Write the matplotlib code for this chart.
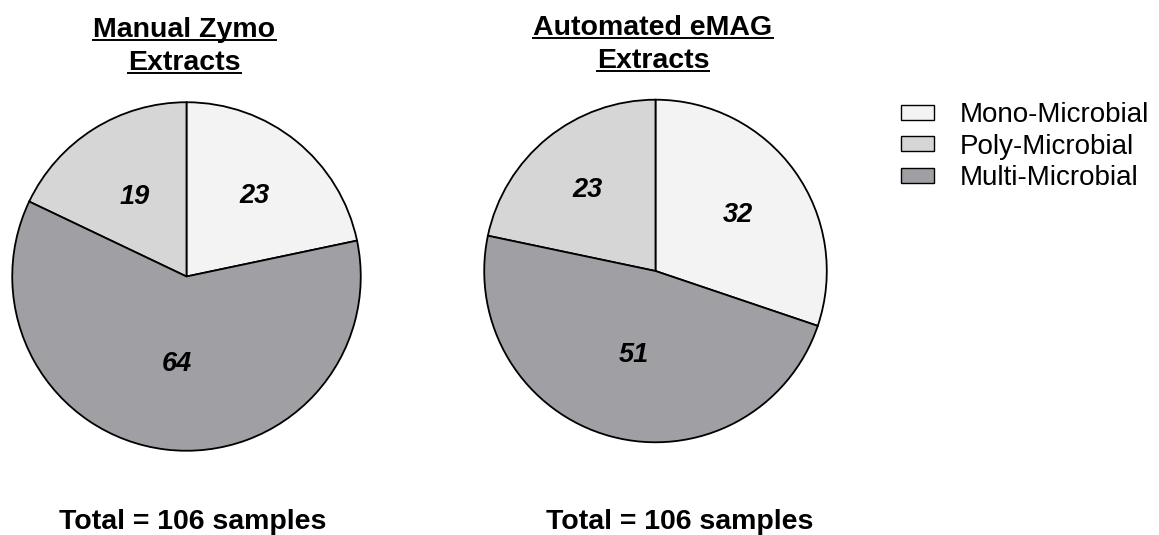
import numpy as np
import matplotlib
matplotlib.use("Agg")
import matplotlib.pyplot as plt
from matplotlib.patches import Patch
from matplotlib.lines import Line2D

plt.rcParams['font.family'] = ['Liberation Sans', 'DejaVu Sans']

categories = ["Mono-Microbial", "Poly-Microbial", "Multi-Microbial"]
zymo_counts = [23, 19, 64]
emag_counts = [32, 23, 51]
titles = [["Manual Zymo", "Extracts"], ["Automated eMAG", "Extracts"]]
totals = ["Total = 106 samples", "Total = 106 samples"]
colors = ["#f3f3f3", "#d6d6d6", "#a09fa4"]

W, H = 1159, 535
fig = plt.figure(figsize=(W / 100, H / 100), dpi=100)

def px_axes(cx, cy, r):
    return [(cx - r) / W, 1 - (cy + r) / H, 2 * r / W, 2 * r / H]

pie_geom = [(186.5, 276.5, 176), (655.5, 271, 173)]
label_dist = [[0.62, 0.56, 0.49], [0.59, 0.63, 0.49]]

for i, counts in enumerate([zymo_counts, emag_counts]):
    cx, cy, r = pie_geom[i]
    ax = fig.add_axes(px_axes(cx, cy, r))
    total = sum(counts)
    start = 90 - 360 * counts[0] / total
    wedges, _ = ax.pie(counts, colors=colors, startangle=start, counterclock=True,
                       wedgeprops=dict(edgecolor="black", linewidth=1.3),
                       radius=1.0)
    ax.set_xlim(-1.01, 1.01)
    ax.set_ylim(-1.01, 1.01)
    ax.set_aspect('equal')
    ax.axis('off')
    for w, v, d in zip(wedges, counts, label_dist[i]):
        ang = np.deg2rad((w.theta1 + w.theta2) / 2)
        ax.text(d * np.cos(ang), d * np.sin(ang), str(v), ha='center',
                va='center_baseline',
                fontsize=19.5, fontweight='bold', fontstyle='italic')

# titles with underline
title_pos = [(184.5, [37, 70]), (653, [35, 68])]
renderer = fig.canvas.get_renderer()
for (tx, baselines), lines in zip(title_pos, titles):
    for line, by in zip(lines, baselines):
        t = fig.text(tx / W, 1 - by / H, line, ha='center', va='baseline',
                     fontsize=20.5, fontweight='bold')
        bb = t.get_window_extent(renderer=renderer)
        uy = 1 - (by + 2.5) / H
        fig.add_artist(Line2D([bb.x0 / W, bb.x1 / W], [uy, uy], color='black',
                              linewidth=1.4, transform=fig.transFigure))

# totals
for tx, txt in zip([192.5, 680], totals):
    fig.text(tx / W, 1 - 529 / H, txt, ha='center', va='baseline',
             fontsize=20.5, fontweight='bold')

handles = [Patch(facecolor=c, edgecolor='black', linewidth=1.0) for c in colors]
fig.legend(handles, categories, loc='upper left',
           bbox_to_anchor=(901 / W, 1 - 102 / H), frameon=False,
           fontsize=20, handlelength=1.2, handleheight=0.45,
           handletextpad=0.9, labelspacing=0.2, borderaxespad=0, borderpad=0)

fig.savefig("out.png", dpi=100)
